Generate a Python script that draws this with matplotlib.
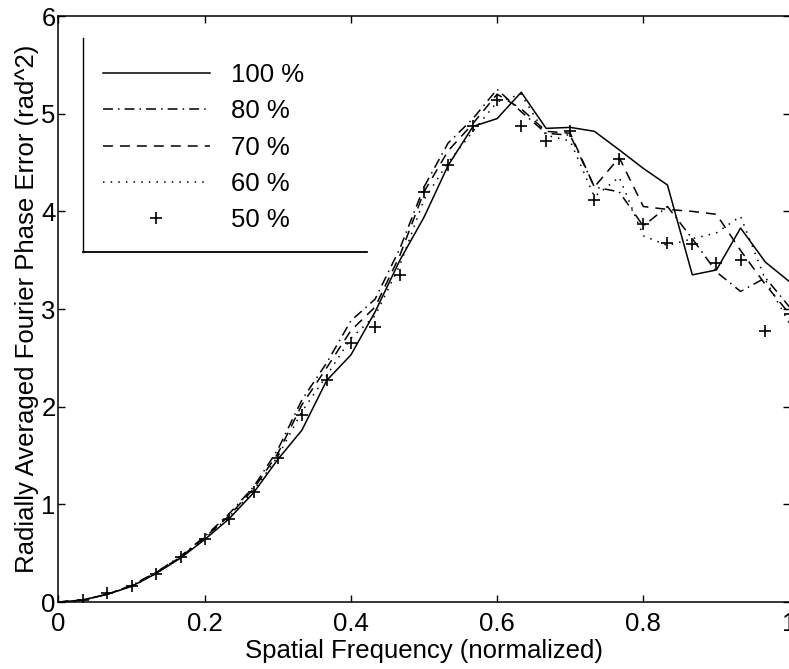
import matplotlib
matplotlib.use("Agg")
import matplotlib.pyplot as plt
from matplotlib.lines import Line2D

plt.rcParams['font.family'] = ['Liberation Sans', 'DejaVu Sans']

# spatial frequency samples (normalized)
freq = [0.0, 0.033, 0.067, 0.1, 0.133, 0.167, 0.2, 0.233, 0.267, 0.3,
        0.333, 0.367, 0.4, 0.433, 0.467, 0.5, 0.533, 0.567, 0.6, 0.633,
        0.667, 0.7, 0.733, 0.767, 0.8, 0.833, 0.867, 0.9, 0.933, 0.967, 1.0]

err_100 = [0, 0.02, 0.08, 0.16, 0.29, 0.45, 0.64, 0.85, 1.12, 1.46,
           1.76, 2.27, 2.53, 2.97, 3.50, 3.94, 4.47, 4.87, 4.95, 5.22,
           4.85, 4.86, 4.82, 4.63, 4.44, 4.27, 3.35, 3.40, 3.83, 3.48, 3.28]
err_80 = [0, 0.02, 0.08, 0.17, 0.30, 0.47, 0.67, 0.90, 1.18, 1.56,
          2.07, 2.45, 2.88, 3.10, 3.62, 4.25, 4.70, 4.95, 5.25, 5.02,
          4.80, 4.78, 4.25, 4.20, 3.85, 4.05, 3.72, 3.38, 3.18, 3.32, 3.02]
err_70 = [0, 0.02, 0.08, 0.17, 0.30, 0.46, 0.66, 0.88, 1.16, 1.52,
          2.02, 2.40, 2.78, 3.02, 3.55, 4.20, 4.62, 4.90, 5.20, 5.05,
          4.82, 4.80, 4.25, 4.55, 4.05, 4.02, 4.00, 3.97, 3.60, 3.25, 2.95]
err_60 = [0, 0.02, 0.08, 0.16, 0.29, 0.46, 0.65, 0.87, 1.14, 1.49,
          1.95, 2.32, 2.70, 2.93, 3.45, 4.12, 4.50, 4.82, 5.12, 5.20,
          4.78, 4.72, 4.15, 4.35, 3.75, 3.65, 3.72, 3.78, 3.95, 3.30, 2.85]
err_50 = [0, 0.02, 0.09, 0.16, 0.29, 0.46, 0.65, 0.85, 1.13, 1.47,
          1.91, 2.27, 2.65, 2.82, 3.35, 4.20, 4.47, 4.87, 5.14, 4.87,
          4.72, 4.82, 4.12, 4.54, 3.87, 3.68, 3.67, 3.47, 3.50, 2.78, 2.95]

labels = ['100 %', '80 %', '70 %', '60 %', '50 %']
xticks = [0, 0.2, 0.4, 0.6, 0.8, 1]
xticklabels = ['0', '0.2', '0.4', '0.6', '0.8', '1']
yticks = [0, 1, 2, 3, 4, 5, 6]

fs = 18.5
lw = 1.1

fig = plt.figure(figsize=(7.89, 6.69), dpi=100)
ax = fig.add_axes([0.0741, 0.1001, 0.9266, 0.8759])

ax.plot(freq, err_100, color='black', lw=lw, linestyle='-', label=labels[0])
ax.plot(freq, err_80, color='black', lw=lw, linestyle=(0, (6.5, 3.3, 1.0, 3.3)), label=labels[1])
ax.plot(freq, err_70, color='black', lw=lw, linestyle=(0, (6.5, 4.6)), label=labels[2])
ax.plot(freq, err_60, color='black', lw=lw, linestyle=(0, (1.0, 4.0)), label=labels[3])
ax.plot(freq, err_50, color='black', linestyle='none', marker='+', markersize=8,
        markeredgewidth=1.2, label=labels[4])

ax.set_xlim(0, 1)
ax.set_ylim(0, 6)
ax.set_xticks(xticks)
ax.set_xticklabels(xticklabels)
ax.set_yticks(yticks)
ax.tick_params(direction='in', length=5, width=1.0, top=True, right=True,
               labelsize=fs)
ax.tick_params(axis='x', pad=7)
ax.tick_params(axis='y', pad=2)
for s in ax.spines.values():
    s.set_linewidth(1.1)

ax.set_xlabel('Spatial Frequency (normalized)', fontsize=fs, labelpad=2)
ax.set_ylabel('Radially Averaged Fourier Phase Error (rad^2)', fontsize=fs, labelpad=2)

ax.legend(loc='upper left', bbox_to_anchor=(0.0609, 0.92), frameon=False,
          fontsize=fs, borderpad=0, borderaxespad=0, handlelength=4.16,
          handletextpad=0.84, labelspacing=0.48)

# legend frame: only left and bottom edges show in the original
ax.add_line(Line2D([0.0339, 0.0339], [0.598, 0.962], transform=ax.transAxes,
                   color='black', lw=1.0, clip_on=False))
ax.add_line(Line2D([0.0339, 0.4216], [0.598, 0.598], transform=ax.transAxes,
                   color='black', lw=1.3, clip_on=False))

fig.savefig('out.png', dpi=100)
